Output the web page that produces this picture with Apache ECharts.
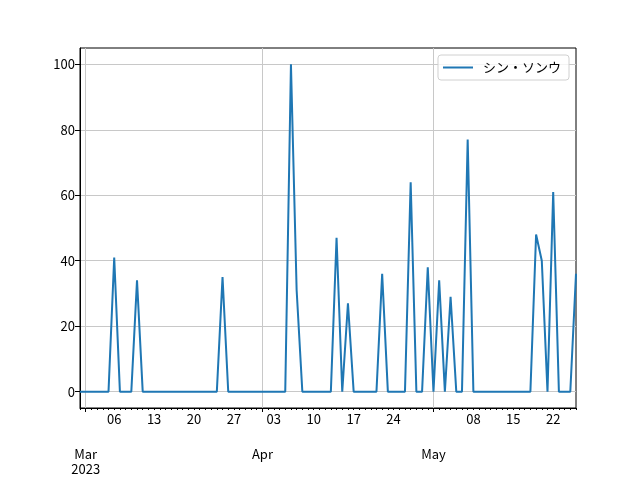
<!DOCTYPE html>
<html><head><meta charset="utf-8">
<script src="https://cdn.jsdelivr.net/npm/echarts@6/dist/echarts.min.js"></script>
<style>html,body{margin:0;padding:0;background:#fff}#c{width:640px;height:480px}</style>
</head><body><div id="c"></div>
<script>
const dates = [
 '2023-02-28',
 '2023-03-01','2023-03-02','2023-03-03','2023-03-04','2023-03-05','2023-03-06','2023-03-07','2023-03-08','2023-03-09','2023-03-10',
 '2023-03-11','2023-03-12','2023-03-13','2023-03-14','2023-03-15','2023-03-16','2023-03-17','2023-03-18','2023-03-19','2023-03-20',
 '2023-03-21','2023-03-22','2023-03-23','2023-03-24','2023-03-25','2023-03-26','2023-03-27','2023-03-28','2023-03-29','2023-03-30','2023-03-31',
 '2023-04-01','2023-04-02','2023-04-03','2023-04-04','2023-04-05','2023-04-06','2023-04-07','2023-04-08','2023-04-09','2023-04-10',
 '2023-04-11','2023-04-12','2023-04-13','2023-04-14','2023-04-15','2023-04-16','2023-04-17','2023-04-18','2023-04-19','2023-04-20',
 '2023-04-21','2023-04-22','2023-04-23','2023-04-24','2023-04-25','2023-04-26','2023-04-27','2023-04-28','2023-04-29','2023-04-30',
 '2023-05-01','2023-05-02','2023-05-03','2023-05-04','2023-05-05','2023-05-06','2023-05-07','2023-05-08','2023-05-09','2023-05-10',
 '2023-05-11','2023-05-12','2023-05-13','2023-05-14','2023-05-15','2023-05-16','2023-05-17','2023-05-18','2023-05-19','2023-05-20',
 '2023-05-21','2023-05-22','2023-05-23','2023-05-24','2023-05-25','2023-05-26'
];
const values = [
 0,
 0,0,0,0,0,41,0,0,0,34,
 0,0,0,0,0,0,0,0,0,0,
 0,0,0,0,35,0,0,0,0,0,0,
 0,0,0,0,0,100,31,0,0,0,
 0,0,0,47,0,27,0,0,0,0,
 0,36,0,0,0,0,64,0,0,38,
 0,34,0,29,0,0,77,0,0,0,
 0,0,0,0,0,0,0,0,48,40,
 0,61,0,0,0,36
];
const seriesName = 'シン・ソンウ';
const monthLabels = {'03': 'Mar\n2023', '04': 'Apr', '05': 'May'};
const weekLabelDays = ['2023-03-06','2023-03-13','2023-03-20','2023-03-27','2023-04-03','2023-04-10','2023-04-17','2023-04-24','2023-05-08','2023-05-15','2023-05-22'];
const yTicks = [0, 20, 40, 60, 80, 100];

const FONT = '"Noto Sans CJK JP", "DejaVu Sans", sans-serif';
const isMonthStart = (v) => v.slice(8) === '01';
const isWeekLabel = (v) => weekLabelDays.indexOf(v) >= 0;

const chart = echarts.init(document.getElementById('c'), null, {renderer: 'canvas'});
chart.setOption({
  animation: false,
  grid: {left: 80, right: 64, top: 48, bottom: 72, show: true, borderColor: '#000', borderWidth: 1, backgroundColor: 'transparent'},
  legend: {
    show: true, right: 71, top: 55, orient: 'vertical',
    icon: 'rect', itemWidth: 30, itemHeight: 2, itemGap: 6,
    padding: [6, 8, 6, 5],
    borderColor: '#d0d0d0', borderWidth: 1, borderRadius: 3,
    backgroundColor: 'rgba(255,255,255,0.8)',
    textStyle: {fontFamily: FONT, fontSize: 13, color: '#000', padding: [0, 0, 0, 5]},
    data: [seriesName]
  },
  xAxis: [
    {
      type: 'category', data: dates, boundaryGap: false, gridIndex: 0,
      axisLine: {show: true, onZero: false, lineStyle: {color: '#000', width: 1}},
      axisTick: {show: true, inside: false, length: 2, interval: 0, lineStyle: {color: '#000'}},
      axisLabel: {
        show: true, interval: (i, v) => isWeekLabel(v), margin: 5,
        fontFamily: FONT, fontSize: 13, color: '#000',
        formatter: (v) => v.slice(8)
      },
      splitLine: {show: false}
    },
    {
      type: 'category', data: dates, boundaryGap: false, gridIndex: 0, position: 'bottom',
      axisLine: {show: false, onZero: false},
      axisTick: {show: true, length: 4, interval: (i, v) => isMonthStart(v), lineStyle: {color: '#000'}},
      axisLabel: {
        show: true, interval: (i, v) => isMonthStart(v), margin: 39, align: 'center',
        fontFamily: FONT, fontSize: 13, color: '#000', lineHeight: 15,
        formatter: (v) => monthLabels[v.slice(5, 7)] || ''
      },
      splitLine: {show: true, interval: (i, v) => isMonthStart(v), lineStyle: {color: '#c8c8c8', width: 1}}
    }
  ],
  yAxis: {
    type: 'value', min: -5, max: 105,
    axisLine: {show: true, lineStyle: {color: '#000'}},
    axisTick: {show: true, length: 5, customValues: yTicks, lineStyle: {color: '#000'}},
    axisLabel: {show: true, customValues: yTicks, margin: 5, fontFamily: FONT, fontSize: 13, color: '#000'},
    splitLine: {show: true, lineStyle: {color: '#c8c8c8', width: 1}}
  },
  series: [{
    name: seriesName, type: 'line', xAxisIndex: 0, data: values,
    showSymbol: false, symbol: 'none',
    lineStyle: {color: '#1f77b4', width: 2}, itemStyle: {color: '#1f77b4'}
  }]
});
</script></body></html>
